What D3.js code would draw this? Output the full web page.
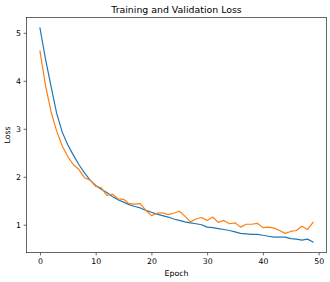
<!DOCTYPE html>
<html><head><meta charset="utf-8">
<script src="https://cdn.jsdelivr.net/npm/d3@7"></script>
<style>body{margin:0;background:#fff}svg{display:block}text{font-family:"DejaVu Sans",sans-serif;fill:#000}</style>
</head><body><svg id="c" width="330" height="282"></svg>
<script>
const epochs = d3.range(0, 50);
const trainLoss = [5.10,4.45,3.88,3.32,2.93,2.66,2.45,2.25,2.08,1.93,1.82,1.74,1.67,1.59,1.52,1.47,1.42,1.38,1.35,1.30,1.26,1.22,1.19,1.16,1.12,1.09,1.06,1.04,1.02,1.00,0.95,0.94,0.92,0.90,0.88,0.85,0.82,0.81,0.80,0.80,0.78,0.76,0.74,0.74,0.74,0.71,0.70,0.68,0.70,0.64];
const valLoss = [4.62,3.90,3.35,2.95,2.64,2.42,2.25,2.15,1.98,1.93,1.80,1.77,1.61,1.64,1.54,1.53,1.44,1.43,1.44,1.30,1.19,1.24,1.25,1.21,1.24,1.28,1.18,1.06,1.12,1.15,1.09,1.16,1.05,1.09,1.02,1.04,0.95,1.01,1.01,1.03,0.94,0.95,0.93,0.88,0.82,0.86,0.88,0.97,0.90,1.05];
const xTicks = [0,10,20,30,40,50];
const yTicks = [1,2,3,4,5];
const title = "Training and Validation Loss";
const xLabel = "Epoch", yLabel = "Loss";

const svg = d3.select("#c");
const L = 26.3, R = 326.7, T = 17.3, B = 252.7;
const x = d3.scaleLinear().domain([-2.45, 51.45]).range([L, R]);
const allV = trainLoss.concat(valLoss);
const lo = d3.min(allV), hi = d3.max(allV), pad = (hi - lo) * 0.05;
const y = d3.scaleLinear().domain([lo - pad, hi + pad]).range([B, T]);

const line = d3.line().x((d,i)=>x(epochs[i])).y(d=>y(d));
const clip = svg.append("clipPath").attr("id","cp").append("rect").attr("x",L).attr("y",T).attr("width",R-L).attr("height",B-T);
const g = svg.append("g").attr("clip-path","url(#cp)");
g.append("path").datum(trainLoss).attr("d",line).attr("fill","none").attr("stroke","#1f77b4").attr("stroke-width",1.2).attr("stroke-linejoin","round").attr("stroke-linecap","square");
g.append("path").datum(valLoss).attr("d",line).attr("fill","none").attr("stroke","#ff7f0e").attr("stroke-width",1.2).attr("stroke-linejoin","round").attr("stroke-linecap","square");

const xa = svg.append("g").attr("transform",`translate(0,${B})`).call(d3.axisBottom(x).tickValues(xTicks).tickSize(2.7).tickPadding(2.7).tickFormat(d3.format("d")));
const ya = svg.append("g").attr("transform",`translate(${L},0)`).call(d3.axisLeft(y).tickValues(yTicks).tickSize(2.7).tickPadding(2.7).tickFormat(d3.format("d")));
[xa,ya].forEach(a=>{a.select(".domain").remove();a.selectAll("line").attr("stroke","#000").attr("stroke-width",0.6);a.selectAll("text").attr("font-size",7.8).attr("font-family","DejaVu Sans").attr("fill","#000");});

svg.append("rect").attr("x",L).attr("y",T).attr("width",R-L).attr("height",B-T).attr("fill","none").attr("stroke","#000").attr("stroke-width",0.6);

svg.append("text").attr("x",(L+R)/2).attr("y",13).attr("text-anchor","middle").attr("font-size",9.4).text(title);
svg.append("text").attr("x",(L+R)/2).attr("y",276).attr("text-anchor","middle").attr("font-size",7.8).text(xLabel);
svg.append("text").attr("transform",`translate(10,${(T+B)/2}) rotate(-90)`).attr("text-anchor","middle").attr("font-size",7.8).text(yLabel);
</script></body></html>
